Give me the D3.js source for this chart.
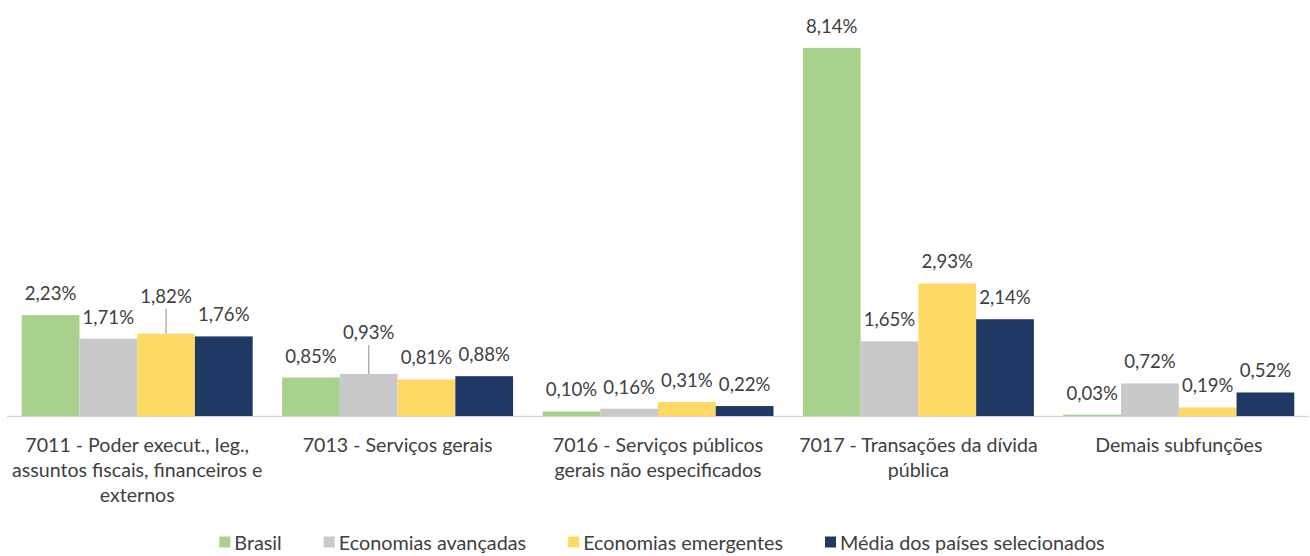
<!DOCTYPE html>
<html>
<head>
<meta charset="utf-8">
<script src="https://cdn.jsdelivr.net/npm/d3@7/dist/d3.min.js"></script>
<style>
  html, body { margin: 0; padding: 0; background: #ffffff; }
  svg { display: block; font-family: Lato, "Open Sans", sans-serif; }
</style>
</head>
<body>
<svg id="chart" width="1310" height="556"></svg>
<script>
const categories = [
  "7011 - Poder execut., leg., assuntos fiscais, financeiros e externos",
  "7013 - Serviços gerais",
  "7016 - Serviços públicos gerais não especificados",
  "7017 - Transações da dívida pública",
  "Demais subfunções"
];
const categoryLines = [
  ["7011 - Poder execut., leg.,", "assuntos fiscais, financeiros e", "externos"],
  ["7013 - Serviços gerais"],
  ["7016 - Serviços públicos", "gerais não especificados"],
  ["7017 - Transações da dívida", "pública"],
  ["Demais subfunções"]
];
const seriesNames = ["Brasil", "Economias avançadas", "Economias emergentes", "Média dos países selecionados"];
const brasil     = [2.23, 0.85, 0.10, 8.14, 0.03];
const avancadas  = [1.71, 0.93, 0.16, 1.65, 0.72];
const emergentes = [1.82, 0.81, 0.31, 2.93, 0.19];
const media      = [1.76, 0.88, 0.22, 2.14, 0.52];
const seriesValues = [brasil, avancadas, emergentes, media];
const colors = ["#A9D18E", "#C9C9C9", "#FFD966", "#203864"];

// labels moved up with leader lines: [category index, series index, extra shift]
const labelShifts = [[0, 2, -16], [1, 1, -20]];

const svg = d3.select("#chart");
const textColor = "#404040";
const labelSize = 18.6;
const catSize = 19.6;
const legendSize = 19.8;

const x0 = d3.scaleBand().domain(d3.range(categories.length))
  .range([7, 1309]).paddingInner(0.113).paddingOuter(0.0565);
const x1 = d3.scaleBand().domain(d3.range(seriesNames.length))
  .range([0, x0.bandwidth()]).padding(0);
const y = d3.scaleLinear().domain([0, 9]).range([416, 9]);

const fmt = v => d3.format(".2f")(v).replace(".", ",") + "%";

// axis baseline
svg.append("line")
  .attr("x1", 7).attr("x2", 1309)
  .attr("y1", y(0) + 0.5).attr("y2", y(0) + 0.5)
  .attr("stroke", "#D9D9D9").attr("stroke-width", 1.5);

const groups = svg.append("g").selectAll("g")
  .data(categories.map((c, i) => i))
  .join("g")
  .attr("transform", i => `translate(${x0(i)},0)`);

groups.selectAll("rect")
  .data(i => seriesValues.map((vals, s) => ({ i, s, v: vals[i] })))
  .join("rect")
  .attr("x", d => x1(d.s))
  .attr("width", x1.bandwidth())
  .attr("y", d => y(d.v))
  .attr("height", d => y(0) - y(d.v))
  .attr("fill", d => colors[d.s]);

// data labels
groups.each(function(i) {
  const g = d3.select(this);
  seriesValues.forEach((vals, s) => {
    const v = vals[i];
    const cx = x1(s) + x1.bandwidth() / 2;
    const shift = labelShifts.find(l => l[0] === i && l[1] === s);
    let cy = y(v) - 22;
    if (shift) {
      cy += shift[2];
      g.append("line")
        .attr("x1", cx).attr("x2", cx)
        .attr("y1", cy + 13).attr("y2", y(v))
        .attr("stroke", "#A6A6A6").attr("stroke-width", 1.3);
    }
    g.append("text")
      .attr("x", cx).attr("y", cy)
      .attr("text-anchor", "middle")
      .attr("dominant-baseline", "central")
      .attr("font-size", labelSize)
      .attr("fill", textColor)
      .text(fmt(v));
  });
});

// category labels
groups.each(function(i) {
  const t = d3.select(this).append("text")
    .attr("text-anchor", "middle")
    .attr("font-size", catSize)
    .attr("fill", textColor);
  categoryLines[i].forEach((line, k) => {
    t.append("tspan")
      .attr("x", x0.bandwidth() / 2)
      .attr("y", 444 + k * 25)
      .attr("dominant-baseline", "central")
      .text(line);
  });
});

// legend
const legend = svg.append("g");
let lx = 0;
seriesNames.forEach((name, s) => {
  const item = legend.append("g").attr("transform", `translate(${lx},0)`);
  item.append("rect").attr("x", 0).attr("y", -5.5).attr("width", 11).attr("height", 11).attr("fill", colors[s]);
  const t = item.append("text").attr("x", 15).attr("y", 0)
    .attr("dominant-baseline", "central")
    .attr("font-size", legendSize).attr("fill", textColor).text(name);
  const w = t.node().getComputedTextLength();
  lx += 15 + w + 42;
});
const totalW = lx - 42;
legend.attr("transform", `translate(${662 - totalW / 2},542)`);
</script>
</body>
</html>
